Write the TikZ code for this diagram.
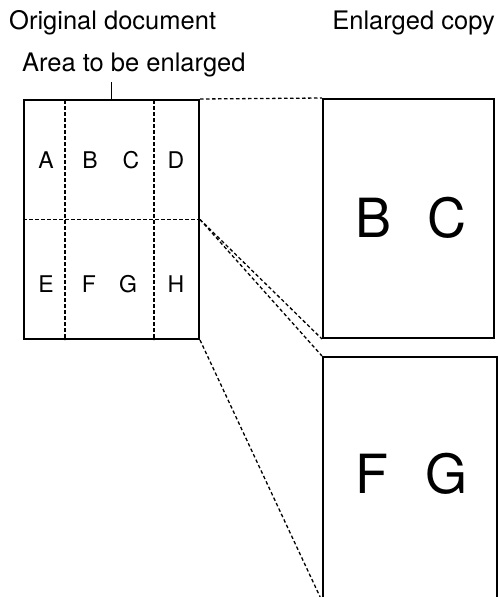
\documentclass[tikz,border=0pt]{standalone}
\usepackage{fontspec}
\setmainfont{TeX Gyre Heros}
\usepackage{tikz}
\usetikzlibrary{positioning}
\tikzstyle{sheet} = [rectangle, 
draw=black, 
line width=2pt, 
inner sep=0pt]
\tikzstyle{fold} = [line width=1.3pt, dash pattern=on 3.5pt off 2.5pt]
\tikzstyle{caption} = [inner sep=0pt, font=\fontsize{25.5}{30}\selectfont]
\tikzstyle{cell} = [inner sep=0pt, anchor=base, font=\fontsize{23}{27}\selectfont]
\tikzstyle{bigcell} = [inner sep=0pt, anchor=base, font=\fontsize{54}{60}\selectfont]

\begin{document}
\begin{tikzpicture}[x=1pt, y=-1pt]
        \useasboundingbox (0,0) rectangle (499,597);
        \clip (0,0) rectangle (499,597);

        % Titulos
        \node (torig) [caption, anchor=base west] at (9,29) {Original document};
        \node (tcopy) [caption, anchor=base east] at (495,29) {Enlarged copy};
        \node (tarea) [caption, anchor=base west] at (22,71) {Area to be enlarged};

        % Hojas
        \node (orig) [sheet, minimum width=175pt, minimum height=239pt] at (111.5,219.5) {};
        \node (bc) [sheet, minimum width=171pt, minimum height=239pt] at (408.5,218.5) {};
        \node (fg) [sheet, minimum width=174pt, minimum height=243pt] at (410,478.5) {};

        % Cortes del original
        \coordinate (cut1) at (65,100);
        \coordinate (cut2) at (154,100);
        \draw [fold] (cut1) -- (cut1 |- orig.south);
        \draw [fold] (cut2) -- (cut2 |- orig.south);
        \draw [fold] (orig.west) -- (orig.east);

        % Letras del original
        \node (a) [cell] at (46,168) {A};
        \node (b) [cell] at (90,168) {B};
        \node (c) [cell] at (131,168) {C};
        \node (d) [cell] at (176,168) {D};
        \node (e) [cell] at (46,292) {E};
        \node (f) [cell] at (89,292) {F};
        \node (g) [cell] at (128,292) {G};
        \node (h) [cell] at (176,292) {H};

        % Letras ampliadas
        \node (bigb) [bigcell] at (374,237) {B};
        \node (bigc) [bigcell] at (447,237) {C};
        \node (bigf) [bigcell] at (372,493) {F};
        \node (bigg) [bigcell] at (447,493) {G};

        % Indicador del area
        \coordinate (tip) at (111.5,82);
        \draw [line width=1.4pt] (orig.north) -- (tip);

        % Lineas de ampliacion
        \draw [fold] (orig.north east) -- (bc.north west);
        \draw [fold] (orig.east) -- (bc.south west);
        \draw [fold] (orig.east) -- (fg.north west);
        \draw [fold] (orig.south east) -- (fg.south west);

    \end{tikzpicture}
\end{document}
